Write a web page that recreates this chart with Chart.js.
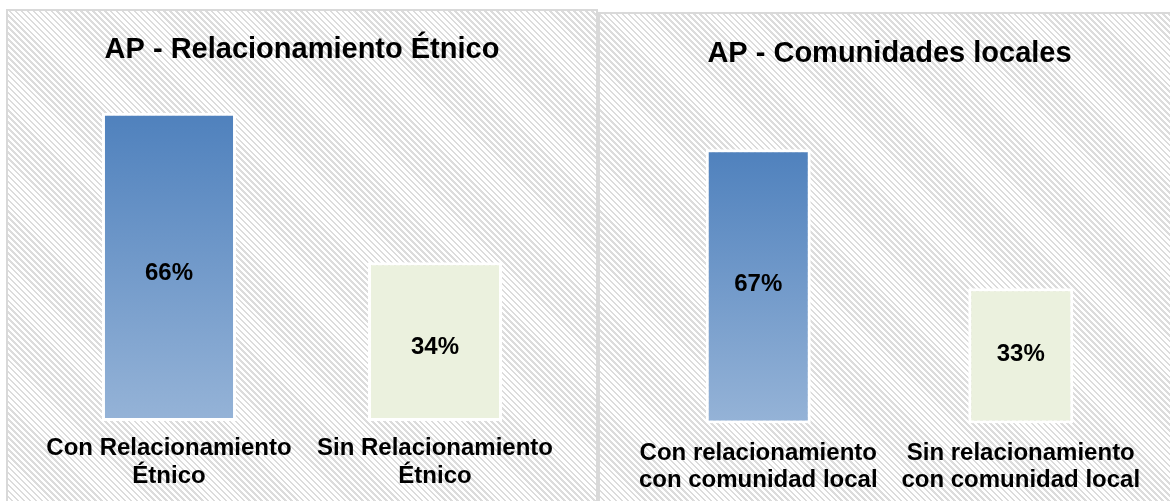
<!DOCTYPE html>
<html>
<head>
<meta charset="utf-8">
<script src="https://cdn.jsdelivr.net/npm/chart.js@4.4.3/dist/chart.umd.min.js"></script>
<style>
  html, body { margin: 0; padding: 0; background: #fff; width: 1170px; height: 501px; overflow: hidden; }
  .panel {
    position: absolute;
    overflow: hidden;
    border: 2px solid #d9d9d9;
    background: repeating-linear-gradient(45deg, #fff 0, #fff 2.4px, #dcdcdc 2.4px, #dcdcdc 4.2px);
  }
  #p1 { left: 6px; top: 9px; width: 588px; height: 490px; }
  #p2 { left: 598px; top: 12px; width: 574px; height: 487px; }
  canvas { display: block; }
</style>
</head>
<body>
<div class="panel" id="p1"><canvas id="c1" width="588" height="510"></canvas></div>
<div class="panel" id="p2"><canvas id="c2" width="570" height="510"></canvas></div>
<script>
  var TITLE_1 = 'AP - Relacionamiento Étnico';
  var LABELS_1 = [['Con Relacionamiento', 'Étnico'], ['Sin Relacionamiento', 'Étnico']];
  var VALUES_1 = [66, 34];

  var TITLE_2 = 'AP - Comunidades locales';
  var LABELS_2 = [['Con relacionamiento', 'con comunidad local'], ['Sin relacionamiento', 'con comunidad local']];
  var VALUES_2 = [67, 33];

  var FONT = 'Arial, "Liberation Sans", sans-serif';
  var BLUE_TOP = '#4f81bd';
  var BLUE_BOTTOM = '#95b3d7';
  var GREEN = '#ebf1de';

  function barFill(ctx) {
    if (ctx.dataIndex === 1) return GREEN;
    var chart = ctx.chart;
    var y = chart.scales.y;
    if (!chart.chartArea || !y) return BLUE_TOP;
    var top = y.getPixelForValue(ctx.raw);
    var bottom = y.getPixelForValue(0);
    var g = chart.ctx.createLinearGradient(0, top, 0, bottom);
    g.addColorStop(0, BLUE_TOP);
    g.addColorStop(1, BLUE_BOTTOM);
    return g;
  }

  var valueLabels = {
    id: 'valueLabels',
    afterDatasetsDraw: function (chart, args, opts) {
      var c = chart.ctx;
      var meta = chart.getDatasetMeta(0);
      c.save();
      c.font = 'bold 24px ' + FONT;
      c.fillStyle = '#000';
      c.textAlign = 'center';
      c.textBaseline = 'middle';
      meta.data.forEach(function (bar, i) {
        var v = chart.data.datasets[0].data[i];
        c.fillText(v + '%', bar.x, (bar.y + bar.base) / 2 + (opts.offset || 0));
      });
      c.restore();
    }
  };

  function makeChart(id, title, labels, values, o) {
    return new Chart(document.getElementById(id), {
      type: 'bar',
      data: {
        labels: labels,
        datasets: [{
          data: values,
          backgroundColor: barFill,
          borderColor: '#ffffff',
          borderWidth: 3,
          borderSkipped: false,
          barPercentage: o.barPct,
          categoryPercentage: 1
        }]
      },
      options: {
        responsive: false,
        animation: false,
        devicePixelRatio: 1,
        layout: { padding: { left: o.left, right: o.right, top: 0, bottom: o.bottom } },
        plugins: {
          legend: { display: false },
          tooltip: { enabled: false },
          valueLabels: { offset: o.labelOffset },
          title: {
            display: true,
            text: title,
            color: '#000',
            font: { family: FONT, size: 29, weight: 'bold', lineHeight: 1.2 },
            padding: { top: o.titleTop, bottom: o.titleBottom }
          }
        },
        scales: {
          x: {
            grid: { display: false, drawTicks: false },
            border: { display: false },
            ticks: {
              color: '#000',
              padding: o.tickPad,
              maxRotation: 0,
              autoSkip: false,
              font: { family: FONT, size: 24, weight: 'bold', lineHeight: o.lineH }
            }
          },
          y: {
            display: false,
            min: 0,
            max: o.max
          }
        }
      },
      plugins: [valueLabels]
    });
  }

  // canvases are 20px taller than the panels (clipped)
  makeChart('c1', TITLE_1, LABELS_1, VALUES_1, {
    left: 28, right: 28, bottom: 17, max: 74, barPct: 0.504, labelOffset: 6,
    titleTop: 21.6, titleBottom: 8.1, tickPad: 13.5, lineH: 28 / 24
  });
  makeChart('c2', TITLE_2, LABELS_2, VALUES_2, {
    left: 27, right: 18, bottom: 13.5, max: 79, barPct: 0.4, labelOffset: -2,
    titleTop: 22.6, titleBottom: 28.6, tickPad: 16.5, lineH: 27 / 24
  });
</script>
</body>
</html>
